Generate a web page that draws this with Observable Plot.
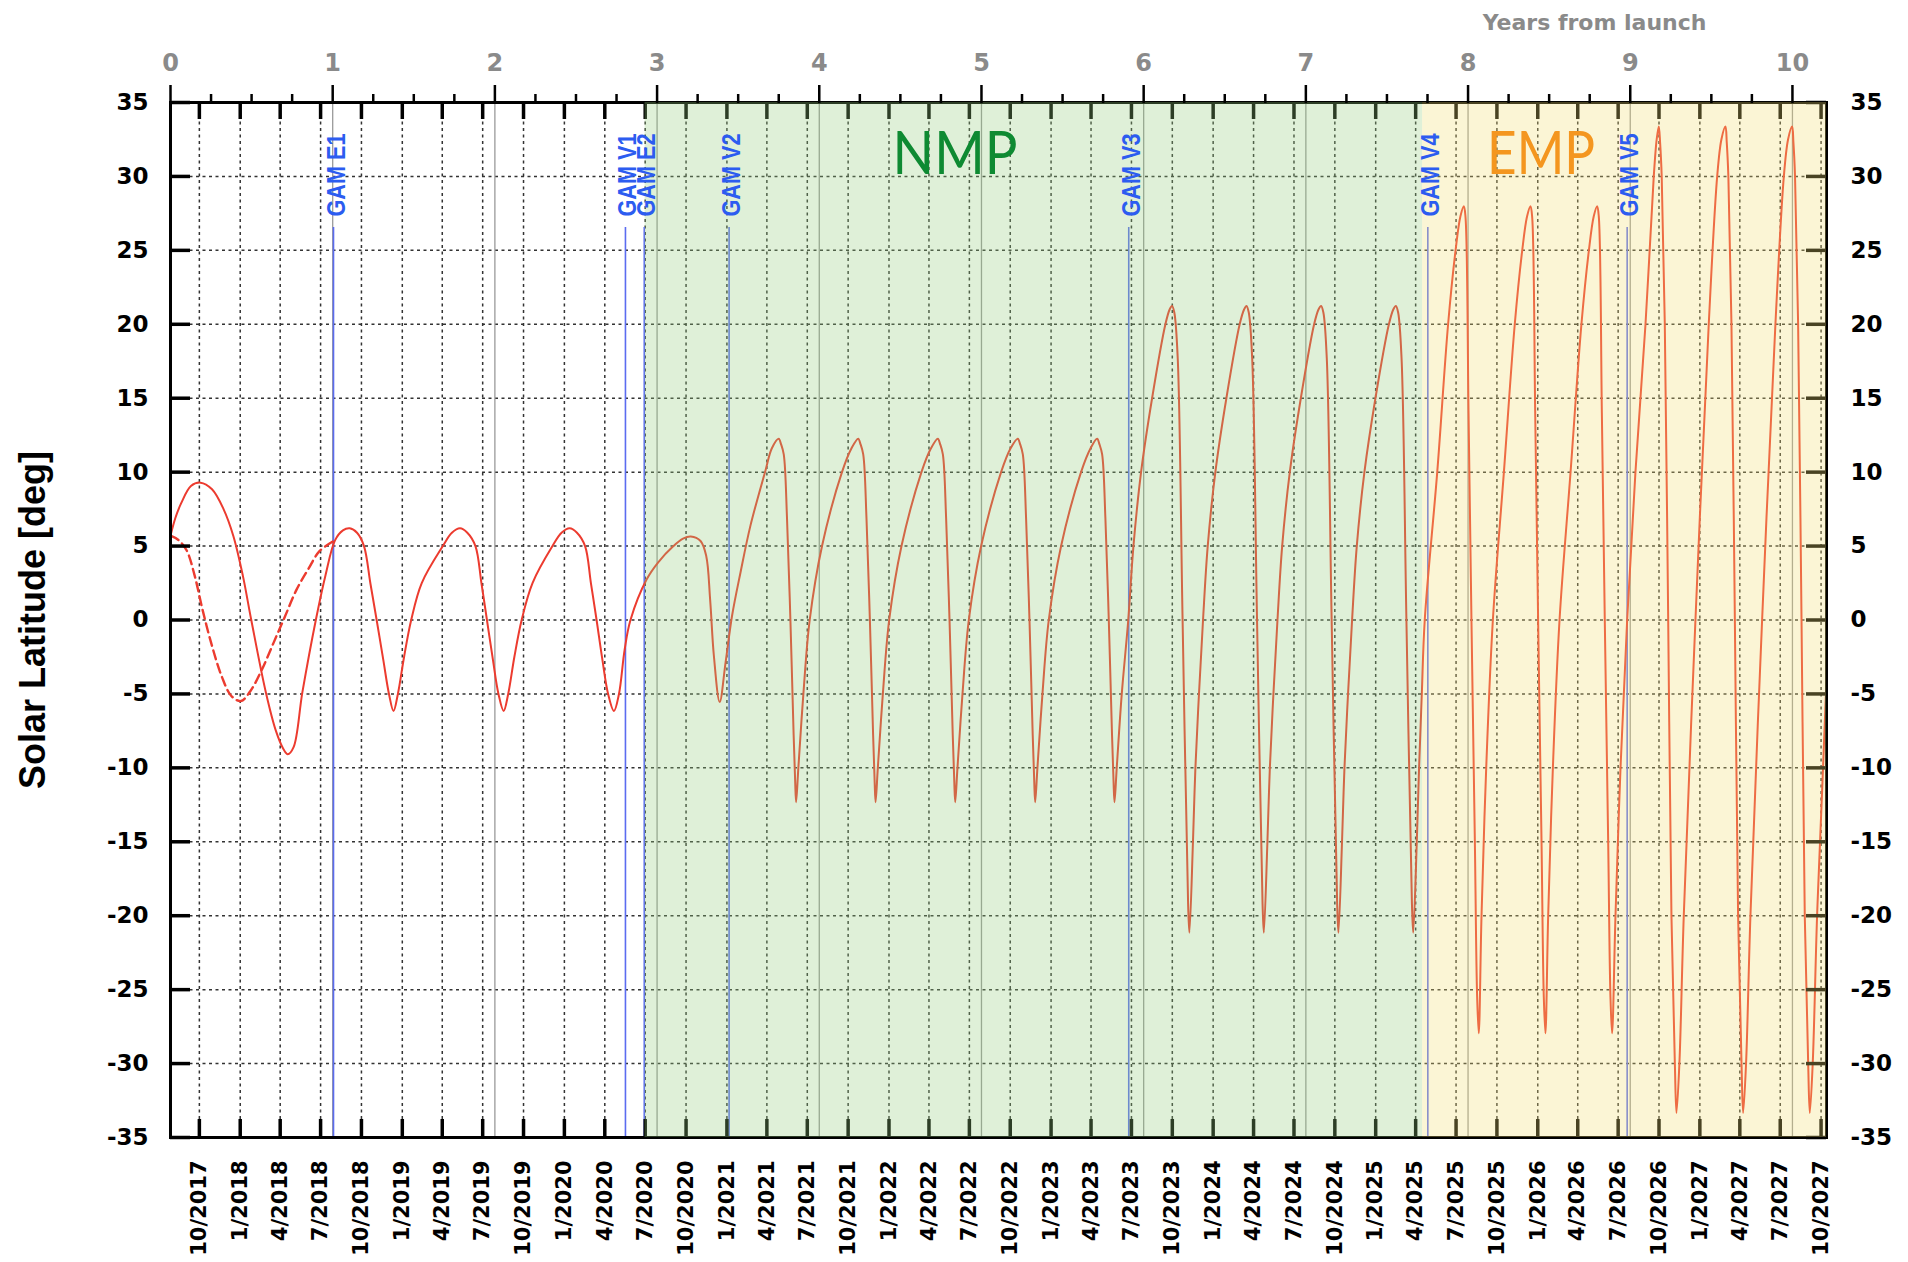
<!DOCTYPE html>
<html><head><meta charset="utf-8">
<script src="https://cdn.jsdelivr.net/npm/d3@7"></script>
<script src="https://cdn.jsdelivr.net/npm/@observablehq/plot@0.6"></script>
<style>
html,body{margin:0;padding:0;background:#fff;}
#chart svg{display:block;background:#fff;}
</style></head><body><div id="chart"></div>
<script>
// ---------------- data ----------------
const launchDate = "2017-07-28";
const xEnd = 10.21; // years from launch at right edge
const dateTickLabels = ["10/2017","1/2018","4/2018","7/2018","10/2018","1/2019","4/2019","7/2019","10/2019",
  "1/2020","4/2020","7/2020","10/2020","1/2021","4/2021","7/2021","10/2021","1/2022","4/2022","7/2022","10/2022",
  "1/2023","4/2023","7/2023","10/2023","1/2024","4/2024","7/2024","10/2024","1/2025","4/2025","7/2025","10/2025",
  "1/2026","4/2026","7/2026","10/2026","1/2027","4/2027","7/2027","10/2027"];
const yearTicks = [0,1,2,3,4,5,6,7,8,9,10];
const latTicks = [-35,-30,-25,-20,-15,-10,-5,0,5,10,15,20,25,30,35];
const gamNames = ["GAM E1","GAM V1","GAM E2","GAM V2","GAM V3","GAM V4","GAM V5"];
const gamYears = [1.005, 2.805, 2.921, 3.444, 5.908, 7.752, 8.981];
const phaseNames = ["NMP","EMP"];
const phaseStart = [2.926, 7.72];
const phaseEnd = [7.72, 10.21];
const phaseLabelYear = [4.837, 8.45];

// solar latitude [deg] vs years from launch (solid: baseline trajectory)
const solidPath = [
 [0.000,5.7],[0.030,6.9],[0.066,7.9],[0.126,9.06],[0.185,9.29],[0.256,8.84],[0.327,7.5],[0.387,5.7],[0.446,3.0],
 [0.498,0.0],[0.588,-4.9],[0.650,-7.5],[0.695,-8.7],[0.723,-9.08],[0.759,-8.6],[0.813,-4.9],[0.896,0.0],[0.955,3.0],
 [1.015,5.4],[1.063,6.06],[1.105,6.2],[1.150,5.9],[1.193,5.0],[1.232,2.5],[1.271,0.0],[1.312,-2.7],[1.347,-5.0],
 [1.375,-6.15],[1.402,-5.0],[1.440,-2.5],[1.484,0.0],[1.549,2.5],[1.679,5.0],[1.735,5.9],[1.785,6.2],[1.830,5.9],
 [1.880,5.0],[1.917,2.5],[1.951,0.0],[1.988,-2.7],[2.022,-5.0],[2.054,-6.15],[2.082,-5.0],[2.120,-2.5],[2.165,0.0],
 [2.232,2.5],[2.355,5.0],[2.411,5.9],[2.461,6.2],[2.506,5.9],[2.556,5.0],[2.592,2.5],[2.627,0.0],[2.663,-2.7],
 [2.698,-5.0],[2.734,-6.15],[2.765,-5.0],[2.800,-2.0],[2.836,0.0],[2.936,2.75],[3.007,3.9],[3.101,5.0],[3.160,5.5],
 [3.208,5.64],[3.268,5.34],[3.303,4.33],[3.327,1.4],[3.350,-2.4],[3.386,-5.55],[3.422,-2.9],[3.462,0.27],[3.514,3.2],
 [3.576,6.4],[3.668,10.1],[3.707,11.6],
 [3.750,12.26],[3.764,11.9],[3.781,11.2],[3.801,6.9],[3.822,0],[3.842,-7.8],[3.851,-10.8],[3.857,-12.32],[3.871,-10],
 [3.902,-5],[3.941,0],[4.017,5],[4.140,10],[4.198,11.6],
 [4.240,12.26],[4.254,11.9],[4.271,11.2],[4.291,6.9],[4.312,0],[4.332,-7.8],[4.341,-10.8],[4.347,-12.32],[4.361,-10],
 [4.392,-5],[4.431,0],[4.507,5],[4.630,10],[4.688,11.6],
 [4.731,12.26],[4.745,11.9],[4.762,11.2],[4.782,6.9],[4.803,0],[4.823,-7.8],[4.832,-10.8],[4.838,-12.32],[4.852,-10],
 [4.883,-5],[4.922,0],[4.998,5],[5.121,10],[5.179,11.6],
 [5.224,12.26],[5.238,11.9],[5.255,11.2],[5.275,6.9],[5.296,0],[5.316,-7.8],[5.325,-10.8],[5.331,-12.32],[5.345,-10],
 [5.376,-5],[5.415,0],[5.491,5],[5.614,10],[5.672,11.6],
 [5.713,12.26],[5.727,11.9],[5.744,11.2],[5.764,6.9],[5.785,0],[5.805,-7.8],[5.814,-10.8],[5.820,-12.32],[5.834,-10],
 [5.865,-5],[5.905,0],[5.937,5],[5.984,10],[6.052,15],[6.134,20],[6.160,21.0],
 [6.175,21.24],[6.189,20.8],[6.210,17.7],[6.240,0],[6.274,-19.2],[6.282,-21.15],[6.304,-15],[6.319,-10],[6.341,-5],
 [6.366,0],[6.395,5],[6.442,10],[6.510,15],[6.592,20],[6.619,21.0],
 [6.634,21.24],[6.648,20.8],[6.669,17.7],[6.699,0],[6.733,-19.2],[6.741,-21.15],[6.763,-15],[6.778,-10],[6.800,-5],
 [6.825,0],[6.854,5],[6.901,10],[6.969,15],[7.051,20],[7.078,21.0],
 [7.094,21.24],[7.108,20.8],[7.129,17.7],[7.159,0],[7.193,-19.2],[7.201,-21.15],[7.223,-15],[7.238,-10],[7.260,-5],
 [7.285,0],[7.314,5],[7.361,10],[7.429,15],[7.512,20],[7.539,21.0],
 [7.555,21.24],[7.569,20.8],[7.590,17.7],[7.620,0],[7.654,-19.2],[7.662,-21.15],[7.684,-15],[7.698,-10],[7.715,-5],
 [7.733,0],[7.810,10],[7.877,20],[7.923,25],[7.953,27.3],
 [7.974,27.98],[7.984,27.3],[8.003,14],[8.021,0],[8.042,-15],[8.056,-25.5],[8.066,-27.95],
 [8.083,-20],[8.112,-10],[8.153,0],[8.221,10],[8.288,20],[8.334,25],[8.364,27.3],
 [8.385,27.98],[8.395,27.3],[8.414,14],[8.432,0],[8.453,-15],[8.467,-25.5],[8.477,-27.95],
 [8.494,-20],[8.523,-10],[8.564,0],[8.632,10],[8.699,20],[8.745,25],[8.775,27.3],
 [8.796,27.98],[8.806,27.3],[8.825,14],[8.843,0],[8.864,-15],[8.878,-25.5],[8.888,-27.95],
 [8.909,-20],[8.940,-10],[8.981,0],[9.032,10],[9.094,20],[9.145,30],[9.163,32.5],
 [9.176,33.37],[9.184,32.3],[9.194,30],[9.213,20],[9.234,0],[9.254,-20],[9.275,-30],[9.285,-33.34],
 [9.303,-30],[9.330,-20],[9.402,0],[9.484,20],[9.536,30],[9.562,32.5],
 [9.587,33.37],[9.595,32.3],[9.605,30],[9.624,20],[9.645,0],[9.665,-20],[9.686,-30],[9.696,-33.34],
 [9.714,-30],[9.741,-20],[9.813,0],[9.895,20],[9.947,30],[9.973,32.5],
 [9.998,33.37],[10.006,32.3],[10.016,30],[10.035,20],[10.056,0],[10.076,-20],[10.097,-30],[10.107,-33.34],
 [10.125,-30],[10.152,-20],[10.185,-11],[10.21,-4]
];
// dashed: alternative path from launch to GAM E1
const dashedPath = [
 [0.000,5.7],[0.050,5.4],[0.100,4.7],[0.149,3.0],[0.197,0.72],[0.256,-1.76],[0.315,-3.79],[0.375,-5.14],[0.434,-5.48],
 [0.493,-4.8],[0.564,-3.34],[0.636,-1.53],[0.707,0.27],[0.778,2.07],[0.849,3.43],[0.920,4.67],[1.015,5.4]
];

// ---------------- derived ----------------
const launchMs = Date.parse(launchDate + "T00:00:00Z");
const YEAR_MS = 365.25 * 864e5;
const dateTicks = dateTickLabels.map(s => {
  const [m, y] = s.split("/").map(Number);
  return {label: s, t: (Date.UTC(y, m - 1, 1) - launchMs) / YEAR_MS};
});
const labelOf = new Map(dateTicks.map(d => [d.t, d.label]));
const minorYearTicks = d3.range(0, xEnd, 0.25).filter(v => v % 1 !== 0);
const solid = solidPath.map(([t, lat]) => ({t, lat}));
const dashed = dashedPath.map(([t, lat]) => ({t, lat}));
const gams = gamNames.map((name, i) => ({name, t: gamYears[i]}));
const phases = phaseNames.map((name, i) => ({name, start: phaseStart[i], end: phaseEnd[i], labelT: phaseLabelYear[i]}));

const W = 1908, H = 1262, mL = 170, mR = 82, mT = 102, mB = 125;
const plotW = W - mL - mR, plotH = H - mT - mB;
const tickFont = "DejaVu Sans";
const red = "#ec3b2f";
const plain = d => String(d);

const chart = Plot.plot({
  width: W, height: H,
  marginLeft: mL, marginRight: mR, marginTop: mT, marginBottom: mB,
  style: {background: "#fff", overflow: "visible"},
  x: {domain: [0, xEnd]},
  y: {domain: [-35, 35]},
  marks: [
    // dashed grid
    Plot.ruleY(latTicks.filter(v => Math.abs(v) < 35), {y: d => d, stroke: "#333", strokeWidth: 1.5, strokeDasharray: "3,3.5"}),
    Plot.ruleX(dateTicks, {x: "t", stroke: "#333", strokeWidth: 1.5, strokeDasharray: "3,3.5"}),
    // solid grey year lines
    Plot.ruleX(yearTicks.filter(v => v > 0), {x: d => d, stroke: "#9a9a9a", strokeWidth: 1.3}),
    // GAM lines
    Plot.ruleX(gams, {x: "t", insetTop: 125, stroke: "#5b6cf0", strokeWidth: 1.6}),
    // curves
    Plot.line(dashed, {x: "t", y: "lat", curve: "catmull-rom", stroke: red, strokeWidth: 2.4, strokeDasharray: "9,5"}),
    Plot.line(solid, {x: "t", y: "lat", curve: "catmull-rom", stroke: red, strokeWidth: 2}),
    // inward ticks
    Plot.ruleX(dateTicks, {x: "t", insetTop: plotH - 18, stroke: "black", strokeWidth: 3.5}),
    Plot.ruleX(dateTicks, {x: "t", insetBottom: plotH - 17, stroke: "black", strokeWidth: 3.5}),
    Plot.ruleY(latTicks, {y: d => d, insetRight: plotW - 20, stroke: "black", strokeWidth: 3.5}),
    Plot.ruleY(latTicks, {y: d => d, insetLeft: plotW - 20, stroke: "black", strokeWidth: 3.5}),
    Plot.frame({stroke: "black", strokeWidth: 3}),
    // phase overlays
    Plot.rect(phases.filter(d => d.name === "NMP"), {x1: "start", x2: "end", fill: "rgb(148,205,125)", fillOpacity: 0.3}),
    Plot.rect(phases.filter(d => d.name === "EMP"), {x1: "start", x2: "end", fill: "rgb(242,222,115)", fillOpacity: 0.3}),
    // GAM labels
    Plot.text(gams, {x: "t", text: "name", frameAnchor: "top", dy: 31, dx: 3, rotate: -90, textAnchor: "end",
      lineAnchor: "middle", fill: "#2c5cf0", fontWeight: "bold", fontSize: 25, fontFamily: "Liberation Sans"}),
    // phase labels
    Plot.text(phases.filter(d => d.name === "NMP"), {x: "labelT", text: "name", frameAnchor: "top", dy: 52,
      lineAnchor: "middle", fill: "#0e8a32", fontSize: 60, fontFamily: "Lato"}),
    Plot.text(phases.filter(d => d.name === "EMP"), {x: "labelT", text: "name", frameAnchor: "top", dy: 52,
      lineAnchor: "middle", fill: "#f4961f", fontSize: 60, fontFamily: "Lato"}),
    // axes
    Plot.axisX(yearTicks, {anchor: "top", tickSize: 18, strokeWidth: 2.5, stroke: "black", tickPadding: 14,
      tickFormat: plain, fill: "#8a8a8a", fontSize: 24, fontWeight: "bold", fontFamily: tickFont, label: null}),
    Plot.axisX(minorYearTicks, {anchor: "top", tickSize: 9, strokeWidth: 2.5, stroke: "black", fill: "none", label: null}),
    Plot.axisX(dateTicks.map(d => d.t), {anchor: "bottom", tickSize: 0, tickRotate: -90, tickPadding: 23,
      tickFormat: t => labelOf.get(t), fill: "black", fontSize: 21, fontWeight: "bold", fontFamily: tickFont, label: null}),
    Plot.axisY(latTicks, {anchor: "left", tickSize: 0, tickPadding: 22, tickFormat: plain, fill: "black", fontSize: 23,
      fontWeight: "bold", fontFamily: tickFont, label: null}),
    Plot.axisY(latTicks, {anchor: "right", tickSize: 0, tickPadding: 24, tickFormat: plain, fill: "black", fontSize: 23,
      fontWeight: "bold", fontFamily: tickFont, label: null}),
    // titles
    Plot.text(["Solar Latitude [deg]"], {text: d => d, frameAnchor: "left", rotate: -90, dx: -137,
      textAnchor: "middle", lineAnchor: "middle",
      fontSize: 36, fontWeight: "bold", fontFamily: "Liberation Sans", fill: "black"}),
    Plot.text(["Years from launch"], {text: d => d, frameAnchor: "top-right", dx: -120, dy: -80, textAnchor: "end",
      lineAnchor: "middle", fill: "#8a8a8a", fontSize: 22, fontWeight: "bold", fontFamily: tickFont})
  ]
});

// condensed-looking labels, as in the reference
chart.querySelectorAll("text").forEach(el => {
  const s = el.textContent;
  if (s.startsWith("GAM ")) { el.setAttribute("textLength", 83); el.setAttribute("lengthAdjust", "spacingAndGlyphs"); }
  if (s === "NMP") { el.setAttribute("textLength", 125); el.setAttribute("lengthAdjust", "spacingAndGlyphs"); }
  if (s === "EMP") { el.setAttribute("textLength", 108); el.setAttribute("lengthAdjust", "spacingAndGlyphs"); }
});
document.getElementById("chart").appendChild(chart);
</script>
</body></html>
